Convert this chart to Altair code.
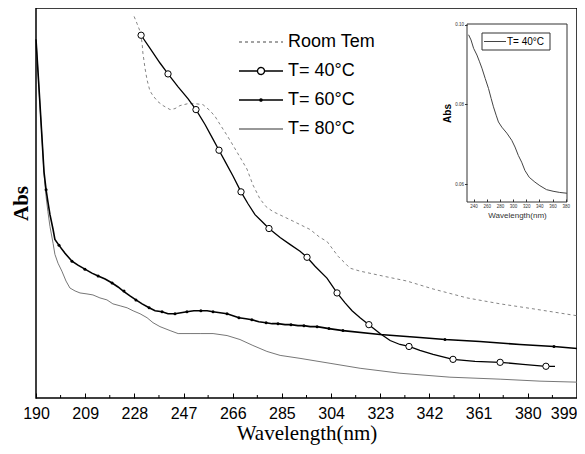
import altair as alt
import pandas as pd

# ---------------- data ----------------
series_names = ["Room Tem", "T= 40°C", "T= 60°C", "T= 80°C"]

room_wl = [227.9, 229.0, 230.2, 231.0, 231.3, 232.1, 232.9, 234.0, 235.2, 237.1, 239.1, 241.8,
           243.7, 245.6, 248.7, 251.4, 254.5, 257.2, 259.2, 261.1, 263.8, 266.1, 268.8, 271.5,
           273.8, 276.5, 278.9, 281.6, 288.1, 292.0, 295.9, 299.7, 302.4, 304.7, 306.7, 309.4,
           311.3, 315.2, 324.1, 333.3, 343.4, 356.5, 369.3, 382.0, 399.0]
room_abs = [3.85, 3.78, 3.70, 3.58, 3.48, 3.33, 3.21, 3.10, 3.05, 2.99, 2.95, 2.91,
            2.92, 2.95, 2.97, 2.97, 2.96, 2.90, 2.84, 2.76, 2.65, 2.55, 2.43, 2.31,
            2.15, 2.01, 1.93, 1.88, 1.80, 1.75, 1.70, 1.62, 1.58, 1.50, 1.43, 1.36,
            1.31, 1.28, 1.23, 1.18, 1.10, 1.01, 0.95, 0.90, 0.83]

t40_wl = [230.6, 234.0, 237.9, 241.0, 244.9, 248.7, 251.8, 255.3, 258.0, 260.7, 263.4, 266.1,
          269.2, 271.9, 274.6, 277.3, 280.0, 284.3, 288.1, 292.0, 294.7, 297.8, 302.4, 306.3,
          309.4, 312.1, 315.2, 318.6, 322.9, 326.8, 330.6, 334.1, 338.3, 343.4, 348.0, 351.1,
          359.6, 369.3, 378.1, 387.0, 390.5]
t40_abs = [3.66, 3.53, 3.38, 3.27, 3.14, 3.02, 2.91, 2.76, 2.63, 2.50, 2.37, 2.24,
           2.08, 1.96, 1.85, 1.78, 1.71, 1.62, 1.55, 1.48, 1.42, 1.33, 1.21, 1.06,
           0.96, 0.88, 0.81, 0.74, 0.65, 0.58, 0.54, 0.52, 0.48, 0.44, 0.41, 0.39,
           0.37, 0.36, 0.34, 0.32, 0.32]
t40_mark_wl = [230.6, 241.0, 251.8, 260.7, 269.2, 280.0, 294.7, 306.3, 318.6, 334.1, 351.1, 369.3, 387.0]
t40_mark_abs = [3.66, 3.27, 2.91, 2.50, 2.08, 1.71, 1.42, 1.06, 0.74, 0.52, 0.39, 0.36, 0.32]

t60_wl = [190.0, 190.8, 191.5, 192.3, 193.1, 193.9, 194.6, 195.4, 196.6, 197.3, 198.9, 201.2,
          203.9, 206.2, 208.9, 211.6, 214.0, 216.7, 219.4, 221.7, 223.6, 226.3, 228.6, 231.0,
          233.7, 236.0, 238.7, 241.0, 243.7, 246.0, 248.3, 251.0, 253.4, 256.1, 258.4, 261.1,
          263.8, 266.1, 268.4, 271.1, 273.4, 276.1, 278.9, 281.2, 283.5, 286.2, 288.5, 291.2,
          293.5, 295.9, 298.6, 300.9, 303.2, 305.9, 308.6, 322.9, 338.3, 348.0, 361.5, 377.0,
          390.1, 399.0]
t60_abs = [3.62, 3.28, 2.98, 2.63, 2.28, 2.10, 1.98, 1.85, 1.70, 1.60, 1.54, 1.46,
           1.38, 1.34, 1.30, 1.26, 1.23, 1.20, 1.16, 1.12, 1.08, 1.03, 0.99, 0.95,
           0.91, 0.88, 0.87, 0.85, 0.85, 0.86, 0.87, 0.88, 0.88, 0.88, 0.87, 0.86,
           0.85, 0.83, 0.81, 0.80, 0.79, 0.77, 0.76, 0.75, 0.75, 0.74, 0.74, 0.73,
           0.73, 0.72, 0.72, 0.71, 0.70, 0.69, 0.68, 0.64, 0.61, 0.59, 0.57, 0.54,
           0.52, 0.50]
t60_mark_wl = [193.9, 198.9, 203.9, 208.9, 214.0, 219.4, 224.0, 228.6, 233.7, 238.7, 243.7, 248.3,
               253.7, 258.4, 263.8, 268.4, 273.4, 278.9, 283.5, 288.5, 293.5, 298.6, 303.2, 308.6,
               348.0, 390.1]
t60_mark_abs = [2.10, 1.54, 1.38, 1.30, 1.23, 1.16, 1.08, 0.99, 0.91, 0.87, 0.85, 0.87,
                0.88, 0.87, 0.85, 0.81, 0.79, 0.76, 0.75, 0.74, 0.73, 0.72, 0.70, 0.68,
                0.59, 0.52]

t80_wl = [190.0, 190.8, 191.5, 192.3, 193.1, 193.9, 194.6, 195.4, 196.6, 197.3, 198.5, 200.0,
          201.6, 203.1, 205.1, 207.0, 209.7, 212.0, 214.7, 217.4, 219.7, 222.5, 225.2, 227.5,
          230.2, 232.9, 235.2, 237.9, 241.8, 244.9, 249.5, 253.4, 258.4, 263.8, 268.8, 273.8,
          279.2, 284.3, 292.0, 303.6, 315.2, 330.6, 349.9, 369.3, 384.7, 399.0]
t80_abs = [3.62, 3.28, 2.96, 2.63, 2.26, 2.03, 1.88, 1.73, 1.56, 1.45, 1.36, 1.28,
           1.18, 1.11, 1.08, 1.06, 1.05, 1.04, 1.01, 0.99, 0.95, 0.93, 0.91, 0.88,
           0.85, 0.81, 0.76, 0.72, 0.68, 0.65, 0.65, 0.65, 0.65, 0.63, 0.59, 0.53,
           0.47, 0.43, 0.40, 0.35, 0.30, 0.25, 0.21, 0.19, 0.17, 0.16]

major_ticks = [190, 209, 228, 247, 266, 285, 304, 323, 342, 361, 380, 399]
minor_ticks = [199.5, 218.5, 237.5, 256.5, 275.5, 294.5, 313.5, 332.5, 351.5, 370.5, 389.5]

inset_label = ["T= 40°C"]
inset_wl = [232.4, 236.1, 240.0, 245.1, 249.1, 252.7, 257.7, 262.7, 266.7, 270.2, 274.3, 277.8,
            282.9, 290.5, 298.0, 303.0, 308.0, 313.1, 318.1, 324.6, 333.2, 340.8, 350.9, 360.8,
            371.0, 382.0]
inset_abs = [0.0975, 0.0962, 0.0941, 0.0924, 0.0907, 0.0891, 0.0865, 0.0840, 0.0815, 0.0794,
             0.0773, 0.0756, 0.0743, 0.0728, 0.0710, 0.0693, 0.0672, 0.0655, 0.0634, 0.0617,
             0.0605, 0.0596, 0.0586, 0.0582, 0.0579, 0.0577]
inset_xticks = [240, 260, 280, 300, 320, 340, 360, 380]
inset_yticks = [0.06, 0.08, 0.10]
inset_xdomain = [230, 382]
inset_ydomain = [0.0555, 0.1002]

# ---------------- styles ----------------
W, H = 541, 390
SANS = "Liberation Sans"
SERIF = "Liberation Serif"

legend_colors = ["#858585", "black", "black", "#777777"]
legend_dashes = [[3, 3], [1, 0], [1, 0], [1, 0]]
legend_paths = [
    "M-2.2,0L2.2,0",
    "M-2.2,0L-0.35,0M0.35,0L2.2,0M0.35,0A0.35,0.35,0,1,1,-0.35,0A0.35,0.35,0,1,1,0.35,0",
    "M-2.2,0L2.2,0M0.12,0A0.12,0.12,0,1,1,-0.12,0A0.12,0.12,0,1,1,0.12,0",
    "M-2.2,0L2.2,0",
]

xs = alt.Scale(domain=[190, 399], nice=False, zero=False)
ys = alt.Scale(domain=[0, 3.935], nice=False, zero=False)

x_axis = alt.Axis(values=major_ticks, title="Wavelength(nm)", grid=False, domain=False,
                  tickSize=5, tickColor="black", tickWidth=1, offset=-5,
                  labelFont=SANS, labelFontSize=16, labelColor="black", labelPadding=7,
                  labelFlush=False,
                  labelAlign={"condition": {"test": "datum.value >= 399", "value": "right"},
                              "value": "center"},
                  titleFont=SERIF, titleFontSize=21, titleFontWeight="normal",
                  titleColor="black", titlePadding=1)
y_axis = alt.Axis(title="Abs", labels=False, ticks=False, domain=False, grid=False,
                  titleFont=SERIF, titleFontSize=21, titleFontWeight="bold",
                  titleColor="black", titlePadding=5)


def df(wl, ab):
    return pd.DataFrame({"wl": wl, "abs": ab})


room = alt.Chart(df(room_wl, room_abs)).mark_line(
    color="#858585", strokeDash=[3, 3], strokeWidth=1).encode(
    x=alt.X("wl:Q", scale=xs, axis=x_axis), y=alt.Y("abs:Q", scale=ys, axis=y_axis))
t80 = alt.Chart(df(t80_wl, t80_abs)).mark_line(color="#777777", strokeWidth=1).encode(
    x=alt.X("wl:Q", scale=xs), y=alt.Y("abs:Q", scale=ys))
t60 = alt.Chart(df(t60_wl, t60_abs)).mark_line(color="black", strokeWidth=1.6).encode(
    x=alt.X("wl:Q", scale=xs), y=alt.Y("abs:Q", scale=ys))
t40 = alt.Chart(df(t40_wl, t40_abs)).mark_line(color="black", strokeWidth=1.3).encode(
    x=alt.X("wl:Q", scale=xs), y=alt.Y("abs:Q", scale=ys))
m60 = alt.Chart(df(t60_mark_wl, t60_mark_abs)).mark_circle(color="black", size=9, opacity=1).encode(
    x=alt.X("wl:Q", scale=xs), y=alt.Y("abs:Q", scale=ys))
m40 = alt.Chart(df(t40_mark_wl, t40_mark_abs)).mark_point(
    shape="circle", size=40, filled=True, fill="white", stroke="black", strokeWidth=1, opacity=1).encode(
    x=alt.X("wl:Q", scale=xs), y=alt.Y("abs:Q", scale=ys))
minor = alt.Chart(pd.DataFrame({"t": minor_ticks})).mark_rule(color="black", strokeWidth=1).encode(
    x=alt.X("t:Q", scale=xs), y=alt.value(H - 3), y2=alt.value(H))

leg = alt.Legend(title=None, orient="none", legendX=214, legendY=23, symbolSize=400,
                 labelFont=SANS, labelFontSize=18, labelColor="black", labelOffset=16,
                 rowPadding=9, padding=0, symbolOpacity=1, symbolStrokeWidth=1.3)
legend_layer = alt.Chart(pd.DataFrame({"series": series_names})).mark_point(
    opacity=0, strokeWidth=1.3).encode(
    color=alt.Color("series:N", scale=alt.Scale(domain=series_names, range=legend_colors), legend=leg),
    shape=alt.Shape("series:N", scale=alt.Scale(domain=series_names, range=legend_paths), legend=leg),
    strokeDash=alt.StrokeDash("series:N", scale=alt.Scale(domain=series_names, range=legend_dashes), legend=leg),
)

main = alt.layer(room, t80, t60, t40, m60, m40, minor, legend_layer)

# ---------------- inset ----------------
ixs = alt.Scale(domain=inset_xdomain, range=[431, 531], nice=False, zero=False)
iys = alt.Scale(domain=inset_ydomain, range=[194, 16], nice=False, zero=False)
ix_axis = alt.Axis(orient="bottom", values=inset_xticks, offset=-199, tickSize=2.5, tickColor="#333",
                   domain=False, grid=False, labelFont=SANS, labelFontSize=4.5, labelColor="#333",
                   labelPadding=1.5, labelFlush=False, title="Wavelength(nm)", titleFont=SANS,
                   titleFontSize=8, titleFontWeight="normal", titleColor="#333", titlePadding=4)
iy_axis = alt.Axis(orient="left", values=inset_yticks, format=".2f", offset=-431, tickSize=2.5,
                   tickColor="#333", domain=False, grid=False, labelFont=SANS, labelFontSize=4.5,
                   labelColor="#333", labelPadding=1, title="Abs", titleFont=SANS, titleFontSize=10,
                   titleFontWeight="bold", titleColor="black", titlePadding=2)

inset_df = pd.DataFrame({"wl": inset_wl, "abs": inset_abs})
inset_line = alt.Chart(inset_df).mark_line(color="#444444", strokeWidth=1).encode(
    x=alt.X("wl:Q", scale=ixs, axis=ix_axis),
    y=alt.Y("abs:Q", scale=iys, axis=iy_axis),
)
inset_frame = alt.Chart(pd.DataFrame({"a": [0]})).mark_rect(
    fillOpacity=0, stroke="#333", strokeWidth=1).encode(
    x=alt.datum(inset_xdomain[0], scale=ixs), x2=alt.datum(inset_xdomain[1]),
    y=alt.datum(inset_ydomain[0], scale=iys), y2=alt.datum(inset_ydomain[1]))

# inset legend box (decoration placed in pixels of the plot area)
ileg_df = pd.DataFrame({"label": inset_label})
ileg_box = alt.Chart(ileg_df).mark_rect(fill="white", stroke="#333", strokeWidth=1).encode(
    x=alt.value(446), x2=alt.value(514), y=alt.value(25), y2=alt.value(42))
ileg_line = alt.Chart(ileg_df).mark_rule(color="#444444", strokeWidth=1).encode(
    x=alt.value(448), x2=alt.value(470), y=alt.value(33.5))
ileg_text = alt.Chart(ileg_df).mark_text(
    align="left", baseline="middle", font=SANS, fontSize=10, color="black").encode(
    x=alt.value(471), y=alt.value(34), text="label:N")

inset = alt.layer(inset_frame, inset_line, ileg_box, ileg_line, ileg_text)

chart = alt.layer(main, inset).resolve_scale(x="independent", y="independent").properties(
    width=W, height=H,
    autosize=alt.AutoSizeParams(type="none"),
    padding={"left": 28, "top": 0, "right": 0, "bottom": 48},
    background="white",
).configure_view(stroke="black", strokeWidth=1.5)

chart.save("out.html", embed_options={"renderer": "svg", "actions": False})
